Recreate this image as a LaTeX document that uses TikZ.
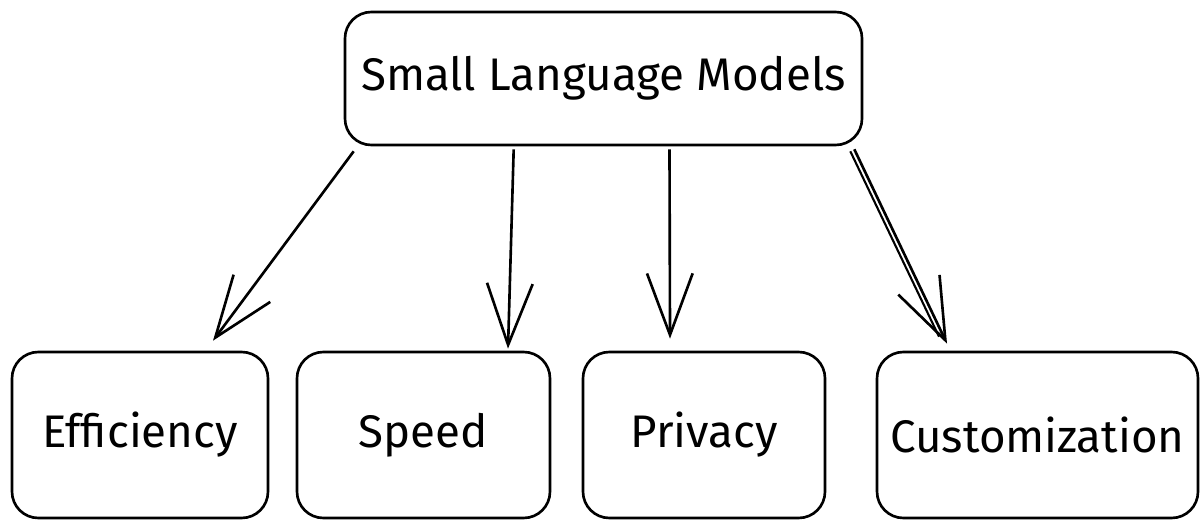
\documentclass[tikz,border=0pt]{standalone}
\usepackage{fontspec}
\setmainfont{Fira Sans}
\usetikzlibrary{arrows.meta,calc}

\begin{document}
\begin{tikzpicture}[x=0.02cm, y=-0.02cm,
    box/.style={draw, line width=1.5pt, rounded corners=15pt, align=center},
    topic/.style={box, minimum height=166*0.02cm, font=\fontsize{26}{30}\selectfont},
    link/.style={line width=1.5pt, -{Straight Barb[length=35pt, width=26pt]}}]

  \useasboundingbox (0,0) rectangle (1202,520);

  \node (slm) [box, minimum width=517*0.02cm, minimum height=133*0.02cm,
    font=\fontsize{26}{30}\selectfont] at (603.5,78.5) {Small Language Models};

  \node (eff) [topic, minimum width=256*0.02cm] at (140,435) {Efficiency};
  \node (spd) [topic, minimum width=253*0.02cm] at (423.5,435) {Speed};
  \node (prv) [topic, minimum width=242*0.02cm] at (704,435) {Privacy};
  \node (cst) [topic, minimum width=321*0.02cm] at (1037.5,435) {Customization};

  \draw [link] ($(slm.south west)+(10,5)$) -- ($(eff.north)+(73,-10)$);
  \draw [link] ($(slm.south west)+(170,3)$) -- ($(spd.north)+(84.5,-2)$);
  \draw [link] ($(slm.south)+(66,3)$) -- ($(prv.north)+(-34,-12)$);
  \draw [link] ($(slm.south east)+(-9,3)$) -- ($(cst.north)+(-90.5,-7)$);
  % second stroke on the last arrow
  \draw [line width=1.2pt] ($(slm.south east)+(-13,5)$) -- ($(cst.north)+(-98.5,-14)$);

\end{tikzpicture}
\end{document}
